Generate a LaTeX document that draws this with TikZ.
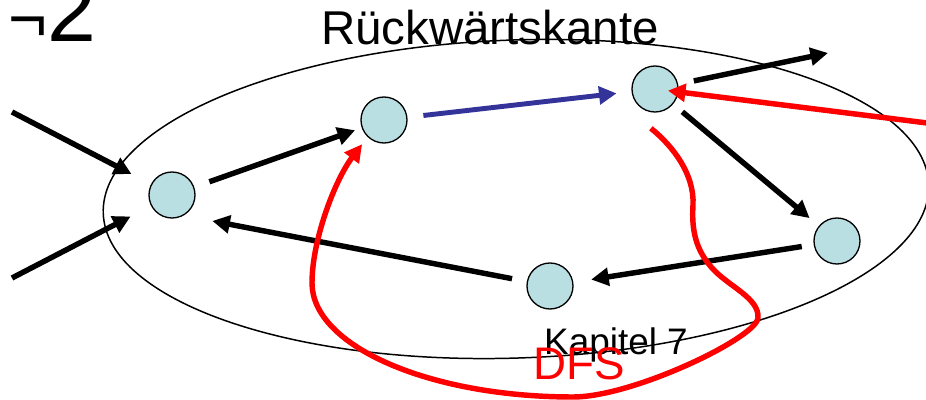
\documentclass[tikz,border=0pt]{standalone}
\usepackage{fontspec}
\setmainfont{Liberation Sans}
\usepackage{tikz}
\usetikzlibrary{arrows.meta}
\usepackage{xcolor}
\definecolor{vtxfill}{RGB}{185,223,227}
\definecolor{treeblue}{RGB}{51,51,153}

\begin{document}
\begin{tikzpicture}[>={Triangle[length=10pt,width=10pt]},
  vtx/.style={circle,draw,line width=0.75pt,fill=vtxfill,minimum size=0.92cm,inner sep=0pt},
  edge/.style={->,line width=3.1pt},
  lbl/.style={anchor=base,inner sep=0pt}]
\useasboundingbox (0,0) rectangle (18.52,8);
\draw[line width=0.85pt,rotate around={2:(10.32,4.02)}] (10.32,4.02) ellipse (8.26 and 3.18);
\node[lbl,font=\fontsize{50}{56}\selectfont,anchor=base west] (num) at (0.16,7.16) {{\fontsize{38}{40}\selectfont ¬}2};
\node[lbl,font=\fontsize{27}{32}\selectfont] (back) at (9.80,7.10) {Rückwärtskante};
\node[lbl,font=\fontsize{21}{25}\selectfont] (chap) at (12.32,0.90) {Kapitel 7};
\node[vtx] (a) at (3.44,4.10) {};
\node[vtx] (b) at (7.68,5.60) {};
\node[vtx] (c) at (13.10,6.22) {};
\node[vtx] (d) at (16.74,3.18) {};
\node[vtx] (e) at (11.00,2.28) {};
\coordinate (in1) at (0.24,5.76);
\coordinate (in2) at (0.24,2.44);
\coordinate (out1) at (16.56,6.94);
\coordinate (rin) at (18.70,5.52);
\draw[edge,shorten >=0.44cm] (in1) -- (a);
\draw[edge,shorten >=0.46cm] (in2) -- (a);
\draw[edge,shorten <=0.32cm,shorten >=0.14cm] (a) -- (b);
\draw[edge,treeblue,line width=2.8pt,shorten <=0.32cm,shorten >=0.3cm] (b) -- (c);
\draw[edge,shorten <=0.32cm] (c) -- (out1);
\draw[edge,shorten <=0.24cm,shorten >=0.24cm] (c) -- (d);
\draw[edge,shorten <=0.24cm,shorten >=0.36cm] (d) -- (e);
\draw[edge,shorten <=0.3cm,shorten >=0.58cm] (e) -- (a.-60);
\draw[edge,red,shorten >=0.26cm] (rin) -- (c.center);
\draw[edge,red,shorten >=0.18cm] ([yshift=-0.32cm]c.-100)
  .. controls (13.48,5.06) and (13.89,4.50) .. (13.86,3.90)
  .. controls (13.83,3.40) and (13.91,3.01) .. (14.24,2.64)
  .. controls (14.57,2.27) and (15.19,2.04) .. (15.16,1.64)
  .. controls (15.12,1.24) and (12.66,0.06) .. (11.46,0.06)
  .. controls (8.58,0.06) and (6.24,1.08) .. (6.24,2.34)
  .. controls (6.24,3.20) and (6.70,4.40) .. (b.226);
\node[lbl,text=red,font=\fontsize{26}{31}\selectfont] (dfs) at (11.58,0.40) {DFS};
\end{tikzpicture}
\end{document}
